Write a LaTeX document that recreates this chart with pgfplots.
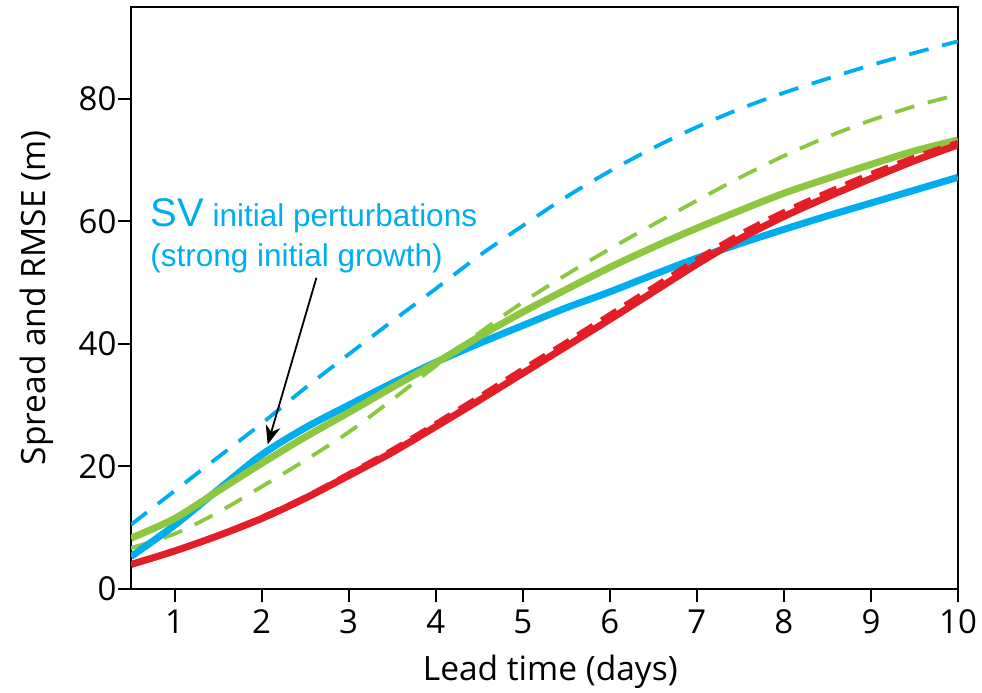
\documentclass[border=0pt]{standalone}
\usepackage{fontspec}
\setmainfont{Open Sans}
\newfontfamily\annfont{Liberation Sans}
\usepackage{pgfplots}
\pgfplotsset{compat=1.18}
\usetikzlibrary{arrows.meta}
\definecolor{cblue}{RGB}{0,174,239}
\definecolor{cgreen}{RGB}{141,198,63}
\definecolor{cred}{RGB}{228,30,38}
\begin{document}
\begin{tikzpicture}
\useasboundingbox (0,0) rectangle (982pt,693pt);
\begin{axis}[
  at={(131pt,104pt)}, anchor=south west,
  width=827pt, height=582pt, scale only axis,
  xmin=0.5, xmax=10, ymin=0, ymax=95,
  xtick={1,2,...,10}, ytick={0,20,40,60,80},
  tick pos=left, tick align=outside, major tick length=13pt,
  axis line style={line width=2pt},
  every tick/.style={black, line width=2pt},
  /pgf/number format/assume math mode=true,
  tick label style={font=\fontsize{33}{40}\selectfont},
  xticklabel style={yshift=-4pt},
  yticklabel style={xshift=2pt},
  xlabel={Lead time (days)}, ylabel={Spread and RMSE (m)},
  label style={font=\fontsize{33.5}{40}\selectfont},
  xlabel style={at={(axis description cs:0.507,-0.158)}, anchor=base},
  ylabel style={at={(axis description cs:-0.1137,0.5)}, anchor=center, rotate=0},
]
% blue dashed
\addplot[cblue, line width=3.8pt, dash pattern=on 20pt off 14pt, smooth] coordinates {
(0.5,10.5)(1,16)(1.5,21.5)(2,27)(2.5,32.8)(3,38.3)(3.5,43.7)(4,49)(4.5,54.4)(5,59.3)(5.5,64)(6,68.2)(6.5,72)(7,75.4)(7.5,78.4)(8,81)(8.5,83.3)(9,85.5)(9.5,87.5)(10,89.4)};
% green dashed
\addplot[cgreen, line width=3.8pt, dash pattern=on 20pt off 14pt, smooth] coordinates {
(0.5,6.7)(1,9)(1.5,12.5)(2,16.7)(2.5,21)(3,25.6)(3.5,30.9)(4,36.4)(4.5,41.8)(5,46.8)(5.5,51.3)(6,55.5)(6.5,59.5)(7,63.4)(7.5,67.2)(8,70.7)(8.5,73.8)(9,76.5)(9.5,78.8)(10,80.7)};
% blue solid
\addplot[cblue, line width=7pt, smooth] coordinates {
(0.5,5.3)(1,10.4)(1.5,16.2)(2,21.9)(2.5,26.3)(3,30)(3.5,33.6)(4,37)(4.5,40.1)(5,43)(5.5,45.9)(6,48.5)(6.5,51.3)(7,54)(7.5,56.4)(8,58.7)(8.5,60.9)(9,63)(9.5,65.1)(10,67.2)};
% green solid
\addplot[cgreen, line width=7pt, smooth] coordinates {
(0.5,8.3)(1,11.5)(1.5,16)(2,20.5)(2.5,24.8)(3,28.8)(3.5,32.9)(4,36.9)(4.5,41.2)(5,45.2)(5.5,48.9)(6,52.5)(6.5,55.8)(7,58.9)(7.5,61.8)(8,64.6)(8.5,67)(9,69.3)(9.5,71.5)(10,73.3)};
% red solid
\addplot[cred, line width=7pt, smooth] coordinates {
(0.5,4.0)(1,6.2)(1.5,8.7)(2,11.5)(2.5,14.8)(3,18.5)(3.5,22.3)(4,26.5)(4.5,30.8)(5,35.2)(5.5,39.6)(6,44)(6.5,48.5)(7,53)(7.5,57.2)(8,60.8)(8.5,64)(9,67)(9.5,69.9)(10,72.5)};
% red dashed
\addplot[cred, line width=5pt, dash pattern=on 18pt off 10pt, smooth] coordinates {
(0.5,4.1)(1,6.3)(1.5,8.8)(2,11.7)(2.5,15)(3,18.8)(3.5,22.7)(4,27)(4.5,31.4)(5,35.9)(5.5,40.3)(6,44.8)(6.5,49.3)(7,53.8)(7.5,58)(8,61.6)(8.5,64.8)(9,67.8)(9.5,70.5)(10,72.9)};
\draw[-{Stealth[length=19pt,width=15pt]}, line width=1.8pt] (axis cs:2.63,50.8) -- (axis cs:2.07,23.6);
\node[anchor=base west, inner sep=0pt, text=cblue, font=\annfont] at (axis cs:0.72,59.2)
  {{\fontsize{40}{48}\selectfont SV}\hspace{9pt}{\fontsize{31.5}{38}\selectfont initial perturbations}};
\node[anchor=base west, inner sep=0pt, text=cblue, font=\annfont\fontsize{31.5}{38}\selectfont] at (axis cs:0.72,52.6)
  {(strong initial growth)};
\end{axis}
\end{tikzpicture}
\end{document}
